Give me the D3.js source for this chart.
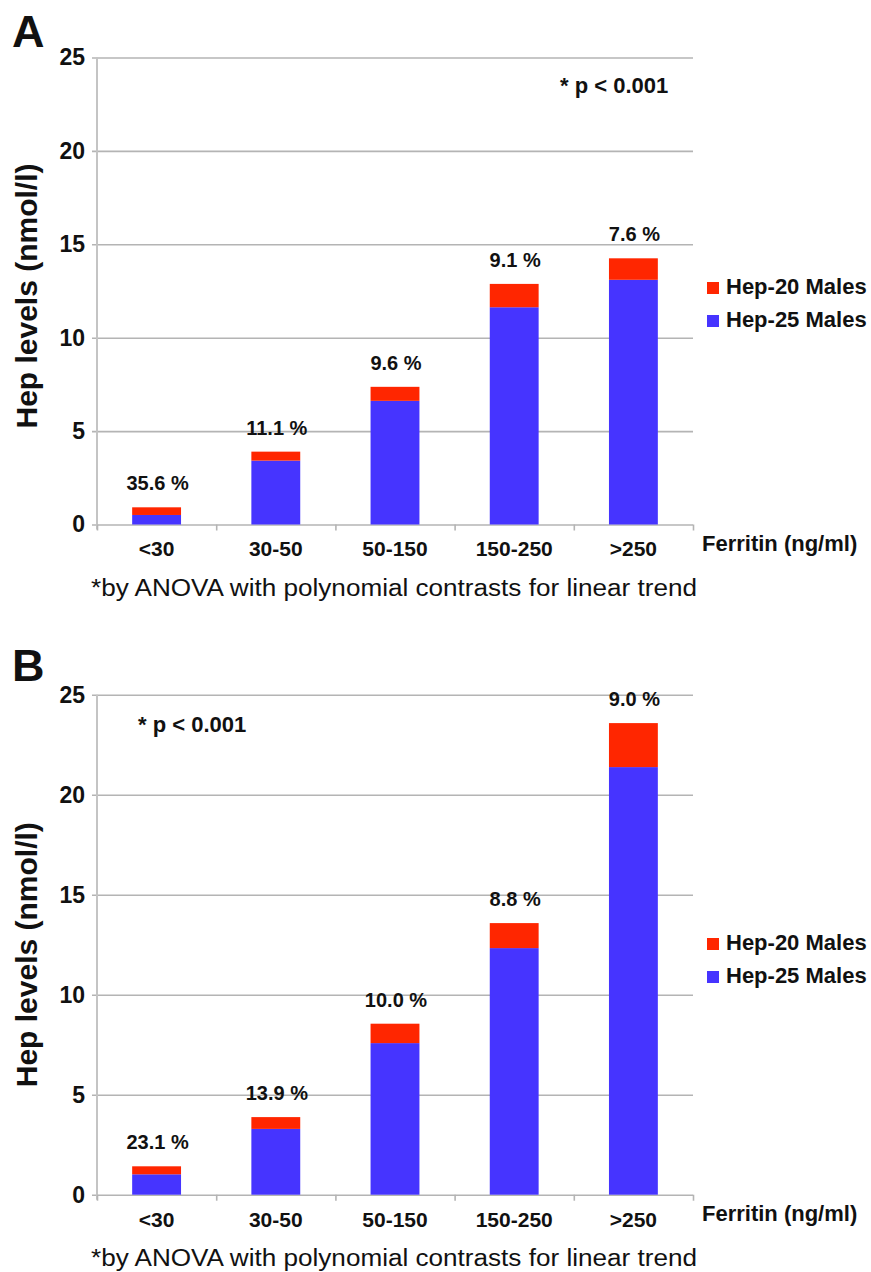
<!DOCTYPE html>
<html>
<head>
<meta charset="utf-8">
<script src="https://cdn.jsdelivr.net/npm/d3@7"></script>
<style>
  body { margin: 0; background: #fff; }
  text { font-family: "Liberation Sans", Arial, Helvetica, sans-serif; fill: #111; }
</style>
</head>
<body>
<div id="chart"></div>
<script>
// ferritin groups, shared by both panels
var categories = ["<30", "30-50", "50-150", "150-250", ">250"];
var yTicks = [0, 5, 10, 15, 20, 25];
var seriesNames = ["Hep-20 Males", "Hep-25 Males"];

// panel A (stack: hep25 at bottom, hep20 on top)
var hep25A = [0.51, 3.42, 6.62, 11.63, 13.10];
var hep20A = [0.41, 0.48, 0.75, 1.25, 1.15];
var pctA = ["35.6 %", "11.1 %", "9.6 %", "9.1 %", "7.6 %"];

// panel B
var hep25B = [1.02, 3.29, 7.58, 12.33, 21.38];
var hep20B = [0.40, 0.59, 0.97, 1.25, 2.20];
var pctB = ["23.1 %", "13.9 %", "10.0 %", "8.8 %", "9.0 %"];

var footnote = "*by ANOVA with polynomial contrasts for linear trend";
var pText = "* p < 0.001";

var colors = {"Hep-20 Males": "#ff2600", "Hep-25 Males": "#4634ff"};
var gridCol = "#b4b4b4";

var W = 871, H = 1272;
var svg = d3.select("#chart").append("svg")
    .attr("width", W)
    .attr("height", H);

function drawPanel(p) {
  var left = 97, right = 693;
  var x = d3.scaleBand().domain(categories).range([left, right])
      .paddingInner(0.59).paddingOuter(0.295);
  var y = d3.scaleLinear().domain([0, 25]).range([p.bottom, p.top]);

  var g = svg.append("g");

  // gridlines + y tick labels
  var yAxis = g.append("g")
      .attr("transform", "translate(" + left + ",0)")
      .call(d3.axisLeft(y).tickValues(yTicks).tickSize(-(right - left)).tickPadding(12));
  yAxis.select(".domain").remove();
  yAxis.selectAll(".tick line").attr("x1", -5).attr("stroke", gridCol).attr("stroke-width", 1.6);
  yAxis.selectAll(".tick text")
      .style("font-size", "23px").style("font-weight", "bold").attr("fill", "#111");

  // vertical axis line
  g.append("line")
      .attr("x1", left).attr("x2", left)
      .attr("y1", y(25)).attr("y2", y(0) + 5)
      .attr("stroke", "#c4c4c4").attr("stroke-width", 2);

  // category boundary ticks
  var bound = d3.scaleLinear().domain([0, categories.length]).range([left, right]);
  var xTicks = g.append("g")
      .attr("transform", "translate(0," + y(0) + ")")
      .call(d3.axisBottom(bound).ticks(5).tickSize(6).tickFormat(""));
  xTicks.select(".domain").remove();
  xTicks.selectAll(".tick line").attr("stroke", gridCol).attr("stroke-width", 1.6);

  // stacked bars
  var rows = categories.map(function(c, i) {
    return {cat: c, "Hep-25 Males": p.hep25[i], "Hep-20 Males": p.hep20[i]};
  });
  var stack = d3.stack().keys(["Hep-25 Males", "Hep-20 Males"])(rows);
  g.selectAll("g.layer").data(stack).join("g")
      .attr("class", "layer")
      .attr("fill", function(d) { return colors[d.key]; })
    .selectAll("rect").data(function(d) { return d; }).join("rect")
      .attr("x", function(d) { return x(d.data.cat); })
      .attr("width", x.bandwidth())
      .attr("y", function(d) { return y(d[1]); })
      .attr("height", function(d) { return y(d[0]) - y(d[1]); });

  // percentage labels above bars
  g.selectAll("text.pct").data(rows).join("text")
      .attr("class", "pct")
      .attr("x", function(d) { return x(d.cat) + x.bandwidth() / 2 + 1; })
      .attr("y", function(d) { return y(d["Hep-25 Males"] + d["Hep-20 Males"]) - 17; })
      .attr("text-anchor", "middle")
      .style("font-size", "20px").style("font-weight", "bold")
      .text(function(d, i) { return p.pct[i]; });

  // category labels
  var xAxis = g.append("g")
      .attr("transform", "translate(0," + y(0) + ")")
      .call(d3.axisBottom(x).tickSize(0).tickPadding(17));
  xAxis.select(".domain").remove();
  xAxis.selectAll(".tick text")
      .style("font-size", "21px").style("font-weight", "bold").attr("fill", "#111");

  g.append("text")
      .attr("x", 702).attr("y", y(0) + 26)
      .style("font-size", "22px").style("font-weight", "bold")
      .text("Ferritin (ng/ml)");

  g.append("text")
      .attr("x", 91).attr("y", y(0) + 71)
      .attr("textLength", 606).attr("lengthAdjust", "spacingAndGlyphs")
      .style("font-size", "23px")
      .text(footnote);

  // panel letter
  g.append("text")
      .attr("x", 12).attr("y", p.letterY)
      .style("font-size", "45px").style("font-weight", "bold")
      .text(p.letter);

  // y title
  g.append("text")
      .attr("transform", "translate(37," + ((y(0) + y(25)) / 2 + p.titleShift) + ") rotate(-90)")
      .attr("text-anchor", "middle")
      .style("font-size", "30px").style("font-weight", "bold")
      .text("Hep levels (nmol/l)");

  g.append("text")
      .attr("x", p.pX).attr("y", p.pY)
      .style("font-size", "22px").style("font-weight", "bold")
      .text(pText);

  // legend
  var leg = g.selectAll("g.leg").data(seriesNames).join("g")
      .attr("class", "leg")
      .attr("transform", function(d, i) { return "translate(707," + (p.legendY + i * 33) + ")"; });
  leg.append("rect")
      .attr("y", -12).attr("width", 12).attr("height", 12)
      .attr("fill", function(d) { return colors[d]; });
  leg.append("text")
      .attr("x", 19).attr("y", 0)
      .style("font-size", "22px").style("font-weight", "bold")
      .text(function(d) { return d; });
}

drawPanel({letter: "A", letterY: 47, top: 57.5, bottom: 524.5,
  hep25: hep25A, hep20: hep20A, pct: pctA,
  pX: 560, pY: 93, legendY: 294, titleShift: 5});

drawPanel({letter: "B", letterY: 681, top: 694.7, bottom: 1194.7,
  hep25: hep25B, hep20: hep20B, pct: pctB,
  pX: 138, pY: 732, legendY: 950, titleShift: 10});
</script>
</body>
</html>
